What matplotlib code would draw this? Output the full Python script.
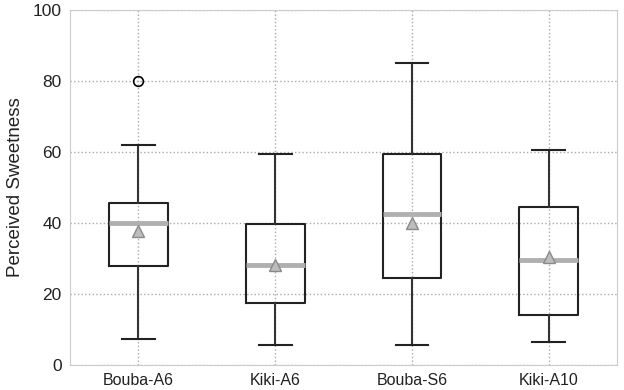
import matplotlib
matplotlib.use("Agg")
import matplotlib.pyplot as plt

plt.rcParams['font.family'] = ['Liberation Sans', 'DejaVu Sans']

labels = ['Bouba-A6', 'Kiki-A6', 'Bouba-S6', 'Kiki-A10']
whislo = [7.3, 5.6, 5.6, 6.6]
q1 = [28.0, 17.6, 24.6, 14.1]
med = [39.9, 28.2, 42.5, 29.7]
q3 = [45.7, 39.6, 59.6, 44.4]
whishi = [62.0, 59.6, 85.2, 60.6]
means = [37.8, 28.2, 40.1, 30.5]
outliers = [[80.0], [], [], []]

stats = []
for i in range(len(labels)):
    stats.append({'label': labels[i], 'whislo': whislo[i], 'q1': q1[i], 'med': med[i],
                  'q3': q3[i], 'whishi': whishi[i], 'mean': means[i], 'fliers': outliers[i]})

fig, ax = plt.subplots(figsize=(6.24, 3.9), dpi=100)
fig.subplots_adjust(left=0.112, right=0.989, top=0.974, bottom=0.064)

ax.bxp(stats, positions=[1, 2, 3, 4], widths=0.43, capwidths=0.24, showmeans=True,
       boxprops=dict(color='#222222', linewidth=1.5),
       whiskerprops=dict(color='#333333', linewidth=1.5),
       capprops=dict(color='#222222', linewidth=1.5),
       medianprops=dict(color='#b0b0b0', linewidth=3.5),
       meanprops=dict(marker='^', markerfacecolor='#bdbdbd', markeredgecolor='#8a8a8a',
                      markersize=9),
       flierprops=dict(marker='o', markerfacecolor='none', markeredgecolor='black',
                       markersize=7, markeredgewidth=1.2))

ax.set_xlim(0.5, 4.5)
ax.set_ylim(0, 100)
ax.set_yticks([0, 20, 40, 60, 80, 100])
ax.grid(True, linestyle=':', color='#aaaaaa', linewidth=1)
ax.set_axisbelow(True)
ax.tick_params(axis='y', length=0, labelsize=12.5, pad=6, labelcolor='#222222')
ax.tick_params(axis='x', length=0, labelsize=11.5, pad=6, labelcolor='#222222')
for s in ax.spines.values():
    s.set_color('#cccccc')
ax.set_ylabel('Perceived Sweetness', fontsize=13.5, color='#222222', labelpad=6)

plt.savefig('out.png', dpi=100)
